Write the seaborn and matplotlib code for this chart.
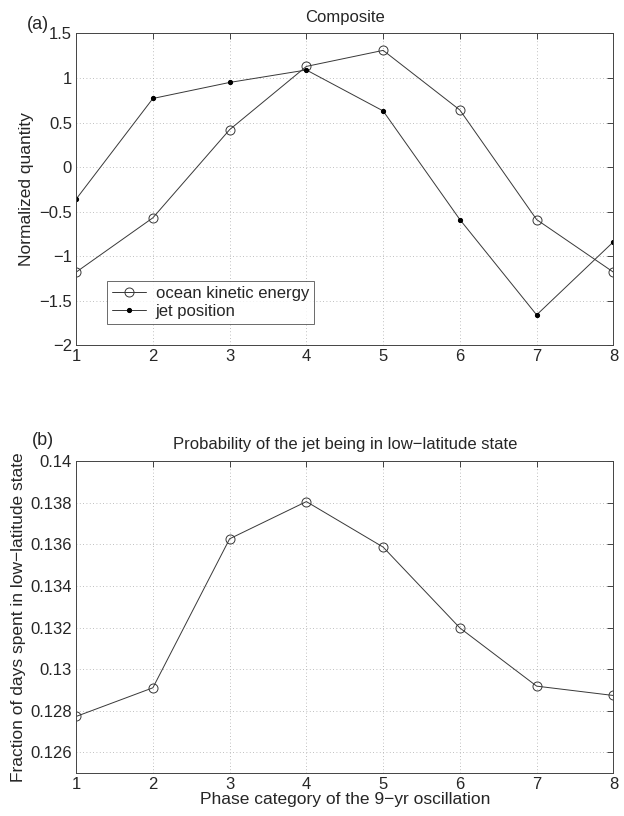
import numpy as np
import pandas as pd
import matplotlib
matplotlib.use("Agg")
import matplotlib.pyplot as plt
import seaborn as sns

# phase categories
phase = [1, 2, 3, 4, 5, 6, 7, 8]

# panel (a): normalized composites
ocean_ke = [-1.18, -0.57, 0.42, 1.13, 1.31, 0.64, -0.59, -1.18]
jet_pos = [-0.36, 0.77, 0.95, 1.09, 0.63, -0.59, -1.66, -0.84]

# panel (b): fraction of days in low-latitude state
frac_low = [0.12772, 0.12910, 0.13627, 0.13806, 0.13587, 0.13198, 0.12918, 0.12873]

sns.set_style("white")
plt.rcParams['font.family'] = ['Liberation Sans', 'DejaVu Sans']
plt.rcParams['font.size'] = 12

df_a = pd.DataFrame({'phase': phase, 'ocean': ocean_ke, 'jet': jet_pos})
df_b = pd.DataFrame({'phase': phase, 'frac': frac_low})

fig = plt.figure(figsize=(6.24, 8.16), dpi=100)
ax1 = fig.add_axes([0.122, 0.577, 0.861, 0.382])
ax2 = fig.add_axes([0.122, 0.0527, 0.861, 0.382])

line_col = '#383838'

sns.lineplot(data=df_a, x='phase', y='ocean', ax=ax1, color=line_col, lw=0.7,
             marker='o', markersize=6.5, markerfacecolor='none',
             markeredgecolor=line_col, markeredgewidth=0.7,
             label='ocean kinetic energy')
sns.lineplot(data=df_a, x='phase', y='jet', ax=ax1, color=line_col, lw=0.7,
             marker='.', markersize=6, markerfacecolor='k', markeredgecolor='k',
             label='jet position')

sns.lineplot(data=df_b, x='phase', y='frac', ax=ax2, color=line_col, lw=0.7,
             marker='o', markersize=6.5, markerfacecolor='none',
             markeredgecolor=line_col, markeredgewidth=0.7)

ax1.set_xlim(1, 8)
ax1.set_ylim(-2, 1.5)
ax1.set_yticks(np.arange(-2, 1.51, 0.5))
ax1.set_yticklabels(['\u22122', '\u22121.5', '\u22121', '\u22120.5', '0', '0.5', '1', '1.5'])
ax1.set_xlabel('')
ax1.set_ylabel('Normalized quantity', fontsize=12.5, labelpad=4)
ax1.set_title('Composite', fontsize=12, pad=8)
ax1.text(-0.092, 1.0, '(a)', transform=ax1.transAxes, fontsize=13, va='bottom', ha='left')

ax2.set_xlim(1, 8)
ax2.set_ylim(0.125, 0.14)
ax2.set_yticks([0.126, 0.128, 0.13, 0.132, 0.134, 0.136, 0.138, 0.14])
ax2.set_yticklabels(['0.126', '0.128', '0.13', '0.132', '0.134', '0.136', '0.138', '0.14'])
ax2.set_xlabel('Phase category of the 9\u2212yr oscillation', fontsize=12.5, labelpad=0)
ax2.set_ylabel('Fraction of days spent in low\u2212latitude state', fontsize=12.5, labelpad=3)
ax2.set_title('Probability of the jet being in low\u2212latitude state', fontsize=12, pad=9)
ax2.text(-0.082, 1.04, '(b)', transform=ax2.transAxes, fontsize=13, va='bottom', ha='left')

for ax in (ax1, ax2):
    ax.set_xticks(phase)
    ax.grid(True, linestyle=(0, (1, 3)), color='#aaaaaa', lw=0.6)
    ax.tick_params(direction='in', length=4, width=0.6, labelsize=12,
                   top=True, right=True, pad=3)
    for s in ax.spines.values():
        s.set_color('#444444')
        s.set_linewidth(0.7)

leg = ax1.legend(loc='lower left', bbox_to_anchor=(0.058, 0.067), fontsize=12,
                 frameon=True, fancybox=False, borderaxespad=0, handlelength=2.0,
                 borderpad=0.3, labelspacing=0.2, handletextpad=0.6)
leg.get_frame().set_edgecolor('#444444')
leg.get_frame().set_linewidth(0.7)

fig.savefig('out.png', dpi=100)
